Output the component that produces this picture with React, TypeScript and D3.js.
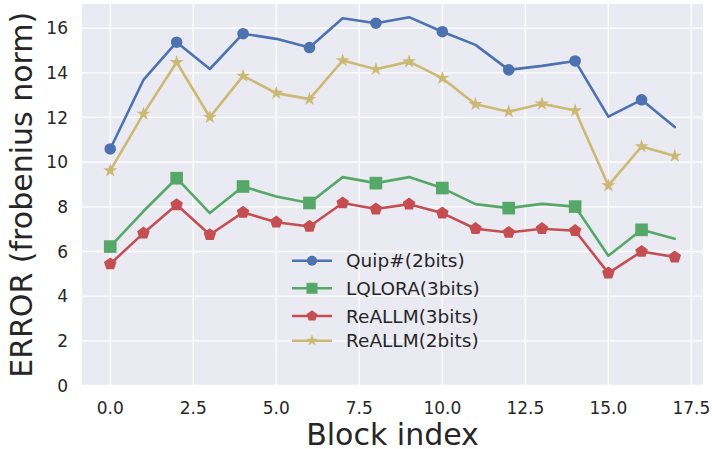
import React, { useRef, useEffect } from "react";
import * as d3 from "d3";

// Block indices 0..17
const blocks = [0, 1, 2, 3, 4, 5, 6, 7, 8, 9, 10, 11, 12, 13, 14, 15, 16, 17];

const quip2 = [10.59, 13.68, 15.37, 14.17, 15.75, 15.52, 15.13, 16.44, 16.22, 16.49, 15.84, 15.25, 14.13, 14.31, 14.53, 12.04, 12.79, 11.57];
const lqlora3 = [6.22, 7.8, 9.28, 7.72, 8.91, 8.46, 8.17, 9.33, 9.06, 9.33, 8.84, 8.12, 7.94, 8.13, 8.01, 5.81, 6.97, 6.57];
const reallm3 = [5.44, 6.82, 8.09, 6.75, 7.75, 7.31, 7.12, 8.17, 7.9, 8.12, 7.72, 7.02, 6.85, 7.02, 6.93, 5.03, 6.0, 5.75];
const reallm2 = [9.62, 12.16, 14.47, 12.01, 13.86, 13.09, 12.82, 14.55, 14.16, 14.5, 13.76, 12.59, 12.26, 12.61, 12.31, 8.95, 10.7, 10.28];

const xTicks = [0, 2.5, 5, 7.5, 10, 12.5, 15, 17.5];
const yTicks = [0, 2, 4, 6, 8, 10, 12, 14, 16];

const series = [
  { name: "Quip#(2bits)", values: quip2, color: "#4C72B0", marker: "circle", every: 2 },
  { name: "LQLORA(3bits)", values: lqlora3, color: "#55A868", marker: "square", every: 2 },
  { name: "ReALLM(3bits)", values: reallm3, color: "#C44E52", marker: "pentagon", every: 1 },
  { name: "ReALLM(2bits)", values: reallm2, color: "#CCB974", marker: "star", every: 1 },
];

const symbolFor = (m: string, scale = 1) => {
  if (m === "circle") return d3.symbol(d3.symbolCircle, 105 * scale)();
  if (m === "square") return d3.symbol(d3.symbolSquare, 160 * scale)();
  if (m === "star") return d3.symbol(d3.symbolStar, 60 * scale)();
  // pentagon
  const r = 6.6 * Math.sqrt(scale);
  const pts = d3.range(5).map((i) => {
    const a = -Math.PI / 2 + (i * 2 * Math.PI) / 5;
    return [r * Math.cos(a), r * Math.sin(a)];
  });
  return "M" + pts.map((p) => p.join(",")).join("L") + "Z";
};

function App() {
  const svgRef = useRef<SVGSVGElement>(null);

  useEffect(() => {
    const w = 712;
    const h = 449;
    const m = { left: 82, right: 9, top: 4, bottom: 63.5 };
    const svg = d3.select(svgRef.current).attr("width", w).attr("height", h);
    svg.selectAll("*").remove();

    const x = d3.scaleLinear().domain([-0.85, 17.85]).range([m.left, w - m.right]);
    const y = d3.scaleLinear().domain([0, 17.08]).range([h - m.bottom, m.top]);

    // Background
    svg.append("rect")
      .attr("x", m.left).attr("y", m.top)
      .attr("width", w - m.right - m.left).attr("height", h - m.bottom - m.top)
      .attr("fill", "#EAEAF2");

    // Grid
    const grid = svg.append("g");
    grid.selectAll(".gx").data(xTicks).join("line")
      .attr("x1", (d) => x(d)).attr("x2", (d) => x(d))
      .attr("y1", m.top).attr("y2", h - m.bottom)
      .attr("stroke", "#fff").attr("stroke-width", 1.3);
    grid.selectAll(".gy").data(yTicks).join("line")
      .attr("x1", m.left).attr("x2", w - m.right)
      .attr("y1", (d) => y(d)).attr("y2", (d) => y(d))
      .attr("stroke", "#fff").attr("stroke-width", 1.3);

    // Tick labels
    const font = "DejaVu Sans, sans-serif";
    svg.append("g").selectAll("text").data(xTicks).join("text")
      .attr("x", (d) => x(d)).attr("y", h - m.bottom + 28.5)
      .attr("text-anchor", "middle").attr("font-family", font).attr("font-size", 17)
      .attr("fill", "#262626").text((d) => d3.format(".1f")(d));
    svg.append("g").selectAll("text").data(yTicks).join("text")
      .attr("x", m.left - 14).attr("y", (d) => y(d)).attr("dy", "0.36em")
      .attr("text-anchor", "end").attr("font-family", font).attr("font-size", 17)
      .attr("fill", "#262626").text((d) => d);

    // Axis titles
    svg.append("text")
      .attr("x", (m.left + w - m.right) / 2).attr("y", h - 4)
      .attr("text-anchor", "middle").attr("font-family", font).attr("font-size", 30)
      .attr("fill", "#262626").text("Block index");
    svg.append("text")
      .attr("transform", `translate(32, ${(m.top + h - m.bottom) / 2}) rotate(-90)`)
      .attr("text-anchor", "middle").attr("font-family", font).attr("font-size", 30)
      .attr("fill", "#262626").text("ERROR (frobenius norm)");

    // Lines
    const line = d3.line<number>().x((d, i) => x(blocks[i])).y((d) => y(d));
    series.forEach((s) => {
      const g = svg.append("g");
      g.append("path").datum(s.values).attr("d", line)
        .attr("fill", "none").attr("stroke", s.color).attr("stroke-width", 2.6)
        .attr("stroke-linejoin", "round").attr("stroke-linecap", "round");
      g.selectAll("path.mk").data(s.values.map((v, i) => [blocks[i], v]).filter((d, i) => i % s.every === 0))
        .join("path").attr("class", "mk")
        .attr("d", symbolFor(s.marker))
        .attr("transform", (d) => `translate(${x(d[0])},${y(d[1])})`)
        .attr("fill", s.color);
    });

    // Legend
    const lg = svg.append("g");
    const rows = [260.7, 288.3, 316, 340.7];
    series.forEach((s, i) => {
      const r = lg.append("g").attr("transform", `translate(0, ${rows[i]})`);
      r.append("line").attr("x1", 292).attr("x2", 332).attr("y1", 0).attr("y2", 0)
        .attr("stroke", s.color).attr("stroke-width", 2.6);
      r.append("path").attr("d", symbolFor(s.marker, 0.75))
        .attr("transform", "translate(312,0)").attr("fill", s.color);
      r.append("text").attr("x", 346).attr("y", 0).attr("dy", "0.36em")
        .attr("font-family", font).attr("font-size", 18.5).attr("fill", "#262626")
        .text(s.name);
    });
  }, []);

  return (
    <div style={{ position: "absolute", left: 0, top: 0 }}>
      <svg ref={svgRef}></svg>
    </div>
  );
}

export default App;
